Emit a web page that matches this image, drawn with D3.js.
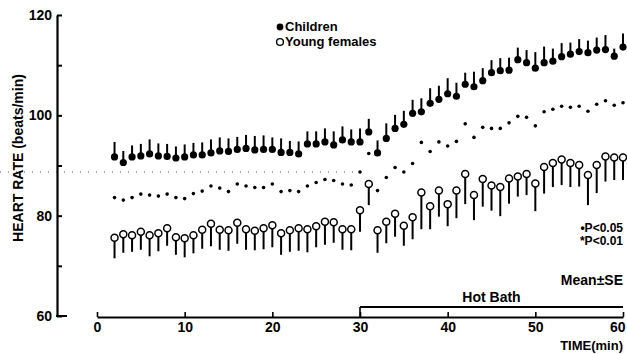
<!DOCTYPE html>
<html>
<head>
<meta charset="utf-8">
<script src="https://cdn.jsdelivr.net/npm/d3@7"></script>
<style>
  body { margin: 0; background: #fff; }
  text { font-family: "Liberation Sans", Arial, sans-serif; fill: #000; }
</style>
</head>
<body>
<svg width="627" height="354"></svg>
<script>
// minutes after start (reading every minute from 2 to 60)
const minutes = [2, 3, 4, 5, 6, 7, 8, 9, 10, 11,
  12, 13, 14, 15, 16, 17, 18, 19, 20, 21,
  22, 23, 24, 25, 26, 27, 28, 29, 30, 31,
  32, 33, 34, 35, 36, 37, 38, 39, 40, 41,
  42, 43, 44, 45, 46, 47, 48, 49, 50, 51,
  52, 53, 54, 55, 56, 57, 58, 59, 60];

const children = [91.7, 90.6, 91.7, 91.9, 92.3, 91.9, 91.8, 91.5, 91.7, 92.1,
  92.1, 92.5, 92.9, 92.8, 93.2, 93.4, 93.1, 93.2, 93.2, 92.6,
  92.6, 92.3, 94.3, 94.3, 94.7, 94.1, 95.1, 94.7, 94.7, 96.7,
  92.5, 95.4, 97.4, 98.2, 100.4, 100.7, 102.4, 103.2, 104.3, 103.8,
  106.2, 105.7, 106.9, 108.5, 108.9, 109.0, 111.1, 110.5, 109.4, 110.5,
  110.8, 111.7, 112.2, 112.7, 112.5, 113.0, 113.1, 111.8, 113.6];
const childrenSE = [3.0, 2.3, 2.3, 2.4, 2.9, 2.5, 2.5, 2.3, 2.5, 2.4,
  2.5, 2.7, 2.7, 2.6, 2.5, 2.7, 2.8, 2.8, 2.4, 2.8,
  2.3, 2.5, 2.5, 2.5, 2.7, 2.7, 2.7, 2.5, 2.7, 2.6,
  2.5, 3.0, 2.7, 2.7, 2.7, 2.7, 3.0, 2.7, 3.1, 2.7,
  2.3, 3.0, 2.5, 2.5, 2.5, 2.5, 2.4, 2.5, 3.2, 3.2,
  2.5, 2.7, 2.3, 2.5, 2.4, 2.5, 2.9, 1.5, 2.7];

const females = [75.6, 76.3, 76.1, 76.8, 76.1, 76.5, 77.5, 75.7, 75.5, 76.1,
  77.2, 78.4, 77.2, 77.1, 78.6, 77.3, 77.0, 77.5, 78.1, 76.5,
  77.1, 77.5, 77.3, 77.9, 78.8, 78.7, 77.3, 77.3, 81.1, 86.3,
  77.1, 78.8, 80.4, 78.0, 79.7, 84.6, 81.9, 85.0, 82.3, 85.0,
  88.3, 84.1, 87.3, 86.0, 85.7, 87.4, 87.8, 88.3, 86.4, 89.7,
  90.5, 91.2, 90.5, 90.1, 88.1, 90.1, 91.8, 91.6, 91.6];
const femalesSE = [4.1, 3.7, 3.3, 3.6, 4.2, 3.6, 3.5, 3.5, 3.8, 3.6,
  3.8, 4.5, 4.0, 4.1, 4.2, 4.1, 3.9, 4.2, 4.4, 4.3,
  4.3, 4.5, 4.6, 4.2, 4.6, 4.1, 4.1, 4.2, 4.3, 4.2,
  4.5, 4.3, 4.6, 4.0, 4.4, 7.3, 4.6, 5.2, 4.4, 5.5,
  6.0, 5.0, 5.5, 5.0, 5.8, 5.0, 4.0, 4.2, 5.5, 5.3,
  4.8, 5.1, 4.8, 4.3, 6.0, 5.6, 5.0, 4.5, 4.5];

// significance marks, drawn between the two curves
const sigMarks = [83.6, 83.1, 83.6, 84.3, 84.1, 83.9, 84.3, 83.6, 83.4, 84.4,
  84.9, 85.9, 85.5, 84.8, 86.3, 85.9, 85.6, 85.6, 86.3, 84.8,
  85.0, 84.8, 85.9, 86.6, 87.2, 87.0, 86.3, 86.1, 88.7, 92.4,
  85.0, 87.6, 89.6, 88.7, 90.4, 94.6, 92.8, 94.7, 93.9, 94.8,
  98.3, 95.6, 97.6, 97.4, 97.4, 98.5, 99.8, 99.6, 97.9, 100.7,
  101.2, 101.8, 101.6, 101.8, 100.8, 102.2, 102.9, 102.0, 102.5];

const yTicks = [60, 70, 80, 90, 100, 110, 120];
const yLabels = [60, 80, 100, 120];
const xTicks = [0, 10, 20, 30, 40, 50, 60];
const hotBath = [30, 60];

const svg = d3.select("svg");

const x = d3.scaleLinear().domain([0, 60]).range([97, 623]);
const y = d3.scaleLinear().domain([60, 120]).range([316, 15]);

// faint dotted scan line across the left half
svg.append("line")
    .attr("x1", 0).attr("x2", x(30))
    .attr("y1", 172).attr("y2", 172)
    .attr("stroke", "#555")
    .attr("stroke-width", 1)
    .attr("stroke-dasharray", "1,7");

// y axis, ticks pointing inward
const yAxis = d3.axisLeft(y)
    .tickValues(yTicks)
    .tickSizeInner(-5)
    .tickSizeOuter(0)
    .tickPadding(5)
    .tickFormat(d => yLabels.includes(d) ? d : "");
const gy = svg.append("g")
    .attr("transform", "translate(57,0)")
    .call(yAxis);
gy.select(".domain").attr("stroke-width", 2.2);
gy.selectAll(".tick line").attr("stroke-width", 2);
gy.selectAll("text")
    .style("font-size", "14px")
    .style("font-weight", "bold");
// little foot at the bottom of the y axis
svg.append("line")
    .attr("x1", 56).attr("x2", 67)
    .attr("y1", y(60)).attr("y2", y(60))
    .attr("stroke", "#000").attr("stroke-width", 2);

// x axis, starting at time 0
const xAxis = d3.axisBottom(x)
    .tickValues(xTicks)
    .tickSizeInner(-5)
    .tickSizeOuter(0)
    .tickPadding(5);
const gx = svg.append("g")
    .attr("transform", "translate(0,317)")
    .call(xAxis);
gx.select(".domain").attr("stroke-width", 2.2);
gx.selectAll(".tick line").attr("stroke-width", 1.6);
gx.selectAll("text")
    .style("font-size", "14px")
    .style("font-weight", "bold");
// keep the last label inside the frame
gx.selectAll(".tick text").filter(d => d === 60).attr("text-anchor", "end").attr("dx", "0.15em");

svg.append("text")
    .attr("x", 623).attr("y", 350)
    .attr("text-anchor", "end")
    .style("font-size", "13px").style("font-weight", "bold")
    .text("TIME(min)");

svg.append("text")
    .attr("transform", "translate(23,158) rotate(-90)")
    .attr("text-anchor", "middle")
    .style("font-size", "14px").style("font-weight", "bold")
    .text("HEART RATE (beats/min)");

// hot bath period
svg.append("line")
    .attr("x1", x(hotBath[0])).attr("x2", x(hotBath[1]))
    .attr("y1", 307).attr("y2", 307)
    .attr("stroke", "#000").attr("stroke-width", 1.8);
svg.append("line")
    .attr("x1", x(hotBath[0])).attr("x2", x(hotBath[0]))
    .attr("y1", 307).attr("y2", 317)
    .attr("stroke", "#000").attr("stroke-width", 1.6);
svg.append("text")
    .attr("x", x(45)).attr("y", 302)
    .attr("text-anchor", "middle")
    .style("font-size", "14px").style("font-weight", "bold")
    .text("Hot Bath");

const childData = minutes.map((t, i) => ({t, v: children[i], se: childrenSE[i]}));
const femData = minutes.map((t, i) => ({t, v: females[i], se: femalesSE[i]}));
const sigData = minutes.map((t, i) => ({t, v: sigMarks[i]}));

// children: error bars upward
svg.append("g").selectAll("line")
    .data(childData).join("line")
    .attr("x1", d => x(d.t)).attr("x2", d => x(d.t))
    .attr("y1", d => y(d.v)).attr("y2", d => y(d.v + d.se))
    .attr("stroke", "#000").attr("stroke-width", 2);
svg.append("g").selectAll("circle")
    .data(childData).join("circle")
    .attr("cx", d => x(d.t)).attr("cy", d => y(d.v))
    .attr("r", 3.6)
    .attr("fill", "#000");

// young females: error bars downward
svg.append("g").selectAll("line")
    .data(femData).join("line")
    .attr("x1", d => x(d.t)).attr("x2", d => x(d.t))
    .attr("y1", d => y(d.v) + 3.5).attr("y2", d => y(d.v - d.se))
    .attr("stroke", "#000").attr("stroke-width", 2);
svg.append("g").selectAll("circle")
    .data(femData).join("circle")
    .attr("cx", d => x(d.t)).attr("cy", d => y(d.v))
    .attr("r", 3.5)
    .attr("fill", "#fff")
    .attr("stroke", "#000").attr("stroke-width", 1.5);

svg.append("g").selectAll("circle")
    .data(sigData).join("circle")
    .attr("cx", d => x(d.t)).attr("cy", d => y(d.v))
    .attr("r", 1.8)
    .attr("fill", "#000");

// legend
svg.append("circle").attr("cx", 280).attr("cy", 27).attr("r", 3.4).attr("fill", "#000");
svg.append("text").attr("x", 285).attr("y", 31)
    .style("font-size", "13px").style("font-weight", "bold")
    .text("Children");
svg.append("circle").attr("cx", 280).attr("cy", 42).attr("r", 3.4)
    .attr("fill", "#fff").attr("stroke", "#000").attr("stroke-width", 1.4);
svg.append("text").attr("x", 285).attr("y", 46)
    .style("font-size", "13px").style("font-weight", "bold")
    .text("Young females");

svg.append("text").attr("x", 623).attr("y", 232)
    .attr("text-anchor", "end")
    .style("font-size", "12px").style("font-weight", "bold")
    .text("•P<0.05");
svg.append("text").attr("x", 623).attr("y", 245)
    .attr("text-anchor", "end")
    .style("font-size", "12px").style("font-weight", "bold")
    .text("*P<0.01");
svg.append("text").attr("x", 623).attr("y", 285)
    .attr("text-anchor", "end")
    .style("font-size", "14px").style("font-weight", "bold")
    .text("Mean±SE");
</script>
</body>
</html>
